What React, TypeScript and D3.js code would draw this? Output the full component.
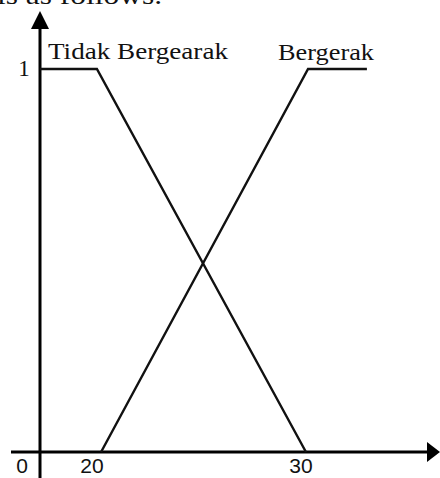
import React from "react";
import * as d3 from "d3";

// Membership functions
const tidakX = [17.16, 19.9, 29.95];
const tidakY = [1, 1, 0];
const bergerakX = [20.1, 30.05, 32.88];
const bergerakY = [0, 1, 1];
const tickValues = [20, 30];
const tickLabels = ["20", "30"];
const seriesNames = ["Tidak Bergearak", "Bergerak"];

const W = 440;
const H = 478;

export default function App() {
  const x = d3.scaleLinear().domain([20, 30]).range([99, 307]);
  const y = d3.scaleLinear().domain([0, 1]).range([452, 69]);
  const line = d3
    .line<[number, number]>()
    .x((d) => x(d[0]))
    .y((d) => y(d[1]));
  const tidak = tidakX.map((v, i) => [v, tidakY[i]] as [number, number]);
  const berg = bergerakX.map((v, i) => [v, bergerakY[i]] as [number, number]);
  const ox = 40;
  const oy = y(0);
  const serif = "'Liberation Serif', 'Times New Roman', serif";
  const sans = "'Liberation Sans', Arial, sans-serif";
  return (
    <svg
      width={W}
      height={H}
      style={{ position: "absolute", left: 0, top: 0, background: "#fff" }}
    >
      <text x={-3} y={4} fontFamily={serif} fontSize={26} textLength={165} lengthAdjust="spacingAndGlyphs" fill="#111">
        is as follows.
      </text>
      {/* axes */}
      <line x1={ox} y1={27} x2={ox} y2={H} stroke="#000" strokeWidth={3} />
      <line x1={11} y1={oy} x2={428} y2={oy} stroke="#000" strokeWidth={3} />
      <path d={`M${ox},11 L${ox - 9},29 L${ox + 9},29 Z`} fill="#000" />
      <path d={`M440,${oy} L427,${oy - 10} L427,${oy + 10} Z`} fill="#000" />
      {/* series */}
      <path d={line(tidak) || ""} fill="none" stroke="#111" strokeWidth={2.4} />
      <path d={line(berg) || ""} fill="none" stroke="#111" strokeWidth={2.4} />
      {/* labels */}
      <text x={48} y={59} fontFamily={serif} fontSize={23} textLength={180} lengthAdjust="spacingAndGlyphs" fill="#111">
        {seriesNames[0]}
      </text>
      <text x={278} y={60} fontFamily={serif} fontSize={23} textLength={96} lengthAdjust="spacingAndGlyphs" fill="#111">
        {seriesNames[1]}
      </text>
      <text x={24} y={y(1) + 7} textAnchor="middle" fontFamily={serif} fontSize={23} fill="#111">
        1
      </text>
      <text x={22} y={473} textAnchor="middle" fontFamily={sans} fontSize={21} fill="#111">
        0
      </text>
      {tickValues.map((t, i) => (
        <text key={t} x={x(t) - 7 + i * 1} y={473} textAnchor="middle" fontFamily={sans} fontSize={21} fill="#111">
          {tickLabels[i]}
        </text>
      ))}
    </svg>
  );
}
